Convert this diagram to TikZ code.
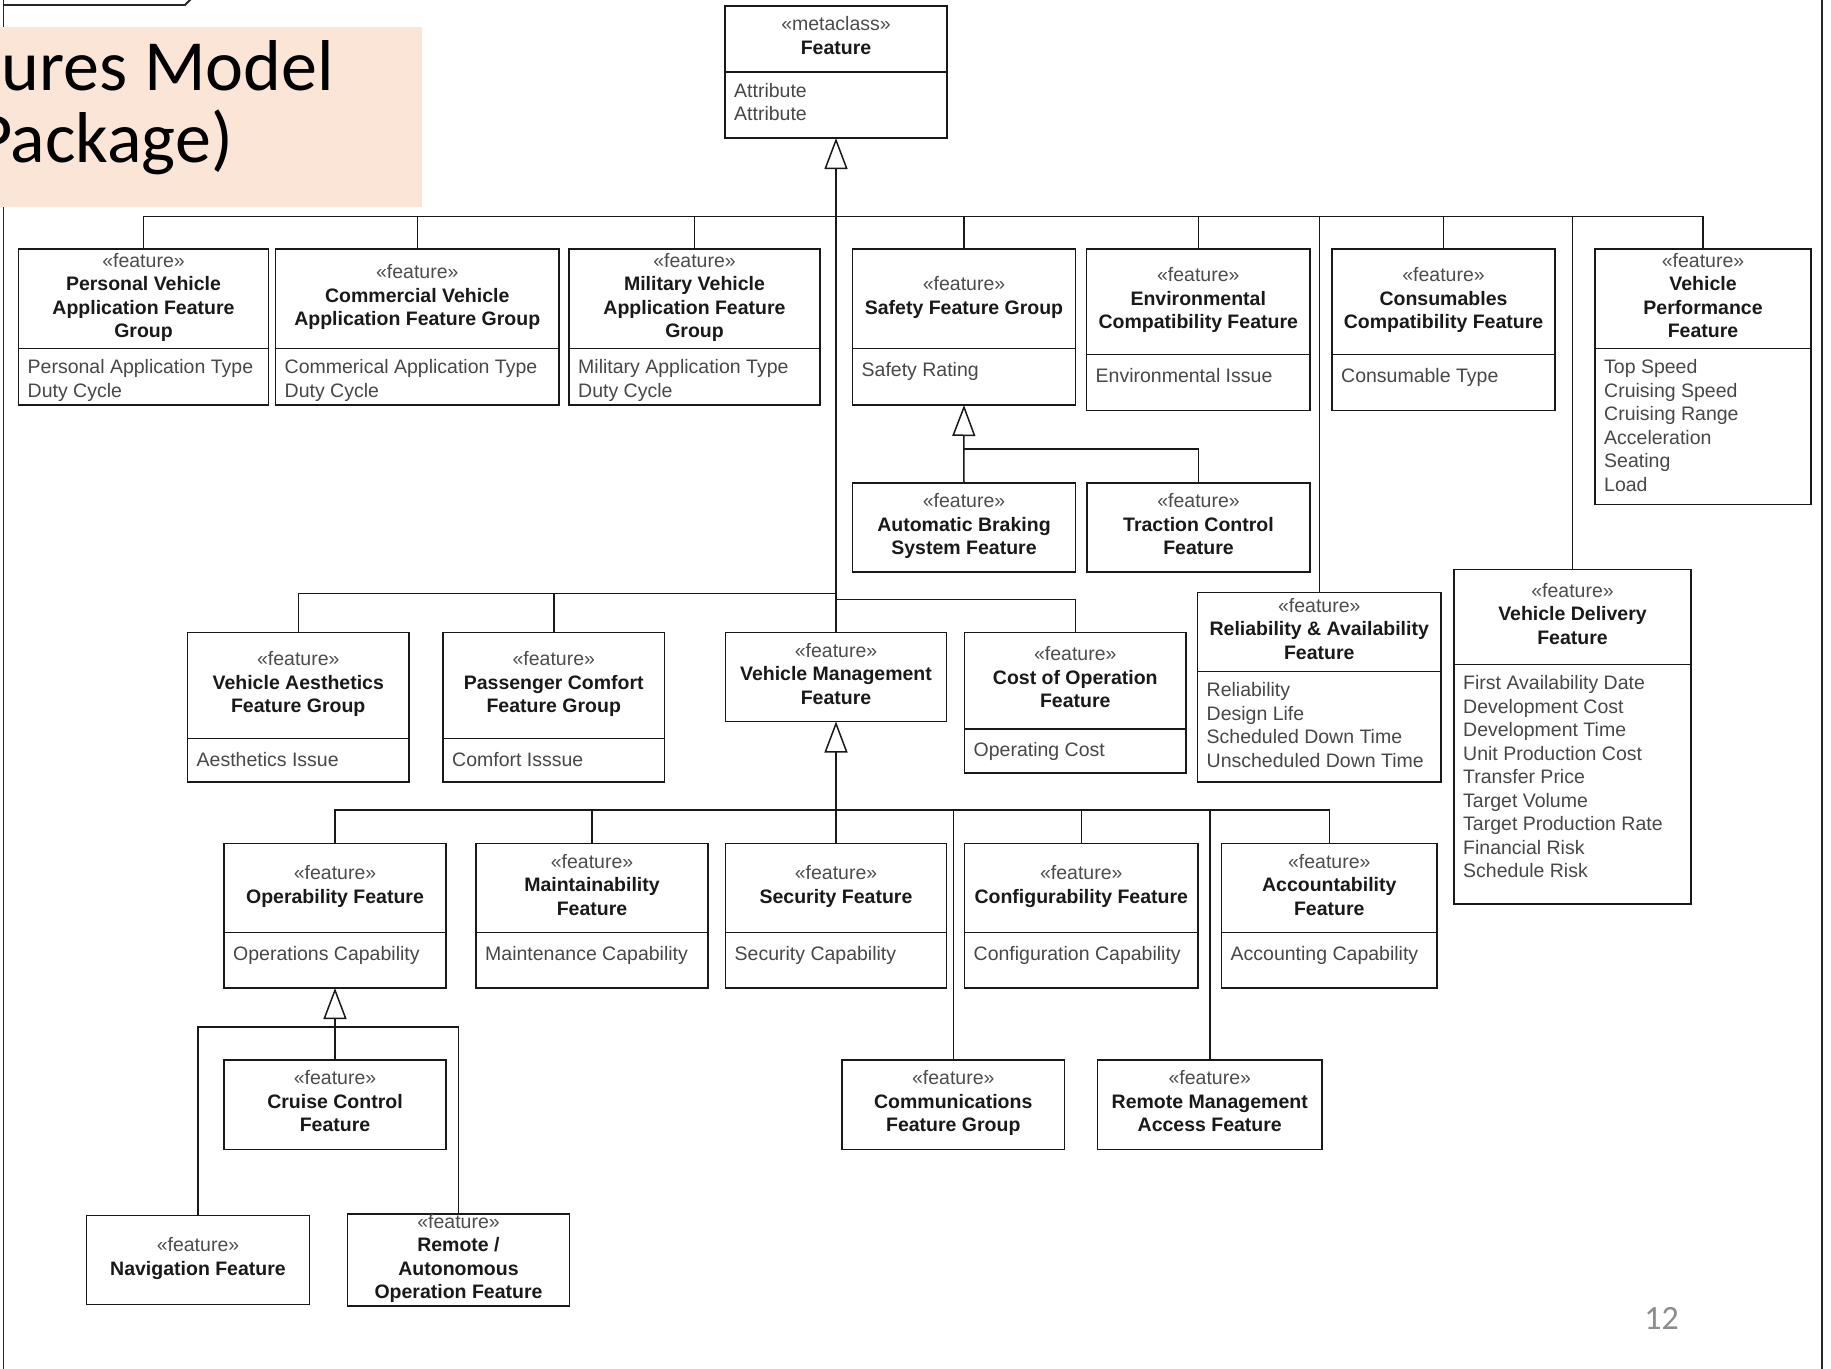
\documentclass[tikz,border=0pt]{standalone}
\usepackage{fontspec}
\setmainfont{Liberation Sans}
\newfontfamily\titlefont{Carlito}
\usetikzlibrary{positioning,arrows.meta}

\definecolor{titlebg}{HTML}{FBE5D6}
\newcommand{\boxfont}{\fontsize{19.5}{23.5}\selectfont}
\newcommand{\stereo}[1]{{\mdseries\color{black!70}«#1»}\\}
\newcommand{\ftr}{\stereo{feature}}
% class with name and attribute compartments
\newcommand{\featcls}[8]{%
    \node[hdr, minimum width={#4-#2}, minimum height={#5-#3}] (#1) at ({(#2+#4)/2},{(#3+#5)/2}) {#7};
    \node[cmp, minimum width={#4-#2}, minimum height={#6-#5}, below=0pt of #1] (#1-c) {};
    \node[attrs] (#1-t) at ({#2+9},{#5+11}) {#8};
}
% class with name compartment only
\newcommand{\featnode}[6]{%
    \node[hdr, minimum width={#4-#2}, minimum height={#5-#3}] (#1) at ({(#2+#4)/2},{(#3+#5)/2}) {#6};
}

\begin{document}
\begin{tikzpicture}[x=1pt, y=-1pt,
            hdr/.style = {draw=black!90, line width=1.8pt, inner sep=0pt, outer sep=0pt,
                align=center, font=\boxfont\bfseries, text=black!90,
                execute at begin node=\strut, execute at end node=\strut},
            cmp/.style = {draw=black!90, line width=1.8pt, inner sep=0pt, outer sep=0pt},
            attrs/.style = {anchor=north west, inner sep=0pt, align=left, font=\boxfont,
                text=black!72, execute at begin node=\strut},
            conn/.style = {draw=black!90, line width=1.5pt},
            gen/.style = {conn, -{Triangle[open, length=31pt, width=23pt]}},
            frame/.style = {draw=black!85, line width=1.8pt},
            title/.style = {anchor=base east, inner sep=0pt, font=\titlefont\fontsize{72}{78}\selectfont},
            ]
    \fill[white] (0,0) rectangle (1831,1368);
    \useasboundingbox (0,0) rectangle (1831,1368);

    \draw[frame] (3.5,-10) -- (3.5,1380);
    \draw[frame] (1822,-10) -- (1822,1380);
    \draw[frame] (3.5,5) -- (185,5) -- (196,-6);

    \fill[titlebg] (-2,27.3) rectangle (421.7,206.7);
    \node[title] (title-a) at (334,90.7) {ures Model};
    \node[title] (title-b) at (233,162.3) {Package)};

    \featcls{meta}{725}{6}{947}{72}{138}{\stereo{metaclass}Feature}{Attribute\\Attribute}

    % first level
    \featcls{pv}{18.5}{249}{268.5}{348.5}{405}{\ftr Personal Vehicle\\Application Feature\\Group}{Personal Application Type\\Duty Cycle}
    \featcls{cv}{275.5}{249}{559}{348.5}{405}{\ftr Commercial Vehicle\\Application Feature Group}{Commerical Application Type\\Duty Cycle}
    \featcls{mv}{569}{249}{820}{348.5}{405}{\ftr Military Vehicle\\Application Feature\\Group}{Military Application Type\\Duty Cycle}
    \featcls{sf}{852.5}{249}{1075.5}{348.5}{405}{\ftr Safety Feature Group}{Safety Rating}
    \featcls{ec}{1086.5}{249}{1310}{354.5}{410.5}{\ftr Environmental\\Compatibility Feature}{Environmental Issue}
    \featcls{cc}{1332}{249}{1555}{354.5}{410.5}{\ftr Consumables\\Compatibility Feature}{Consumable Type}
    \featcls{vp}{1595}{249}{1811}{348.5}{504.5}{\ftr Vehicle\\Performance\\Feature}{Top Speed\\Cruising Speed\\Cruising Range\\Acceleration\\Seating\\Load}

    \featnode{abrk}{852.5}{483}{1075.5}{572}{\ftr Automatic Braking\\System Feature}
    \featnode{tc}{1087}{483}{1310}{572}{\ftr Traction Control\\Feature}

    \featcls{va}{187.5}{632.5}{409}{738.5}{782}{\ftr Vehicle Aesthetics\\Feature Group}{Aesthetics Issue}
    \featcls{pc}{443}{632.5}{664.5}{738.5}{782}{\ftr Passenger Comfort\\Feature Group}{Comfort Isssue}
    \featnode{vm}{725.5}{632.5}{946.5}{721.5}{\ftr Vehicle Management\\Feature}
    \featcls{co}{964.5}{632.5}{1186}{729}{773}{\ftr Cost of Operation\\Feature}{Operating Cost}
    \featcls{ra}{1197.5}{592.5}{1441}{671.5}{782}{\ftr Reliability \& Availability\\Feature}{Reliability\\Design Life\\Scheduled Down Time\\Unscheduled Down Time}
    \featcls{vd}{1454}{569.5}{1691}{664.5}{904}{\ftr Vehicle Delivery\\Feature}{First Availability Date\\Development Cost\\Development Time\\Unit Production Cost\\Transfer Price\\Target Volume\\Target Production Rate\\Financial Risk\\Schedule Risk}

    % vehicle management children
    \featcls{op}{224}{843.5}{446}{932.5}{988}{\ftr Operability Feature}{Operations Capability}
    \featcls{mt}{476}{843.5}{708}{932.5}{988}{\ftr Maintainability\\Feature}{Maintenance Capability}
    \featcls{sec}{725.5}{843.5}{946.5}{932.5}{988}{\ftr Security Feature}{Security Capability}
    \featcls{cfg}{964.5}{843.5}{1198}{932.5}{988}{\ftr Configurability Feature}{Configuration Capability}
    \featcls{acc}{1221.5}{843.5}{1437}{932.5}{988}{\ftr Accountability\\Feature}{Accounting Capability}
    \featnode{com}{842}{1060}{1064.5}{1149.5}{\ftr Communications\\Feature Group}
    \featnode{rm}{1097.5}{1060}{1322}{1149.5}{\ftr Remote Management\\Access Feature}

    % operability children
    \featnode{cr}{224}{1060}{446}{1149.5}{\ftr Cruise Control\\Feature}
    \featnode{nav}{86.5}{1215.5}{309.5}{1304.5}{\ftr Navigation Feature}
    \featnode{rao}{347.5}{1215.5}{569.5}{1304.5}{\ftr Remote /\\Autonomous\\Operation Feature}

    % generalizations
    \coordinate (meta-j) at (836,216.5);
    \coordinate (meta-ja) at (836,593.5);
    \coordinate (meta-jb) at (836,599.5);
    \draw[gen] (vm.north) -- (meta-c.south);
    \foreach \n in {pv,cv,mv,sf,ec,cc,vp,ra,vd}
        \draw[conn] (\n.north) |- (meta-j);
    \draw[conn] (va.north) |- (meta-ja);
    \draw[conn] (pc.north) |- (meta-ja);
    \draw[conn] (co.north) |- (meta-jb);

    \coordinate (sf-j) at (963.75,449);
    \draw[gen] (sf-j) -- (sf-c.south);
    \draw[conn] (abrk.north) -- (sf-j);
    \draw[conn] (tc.north) |- (sf-j);

    \coordinate (vm-j) at (836,810);
    \draw[gen] (vm-j) -- (vm.south);
    \foreach \n in {op,mt,sec,com,cfg,rm,acc}
        \draw[conn] (\n.north) |- (vm-j);

    \coordinate (op-j) at (335,1027);
    \draw[gen] (op-j) -- (op-c.south);
    \foreach \n in {cr,nav,rao}
        \draw[conn] (\n.north) |- (op-j);

    \node[anchor=base east, inner sep=0pt, text=black!45,
        font=\titlefont\fontsize{34}{40}\selectfont] (pnum) at (1679,1329) {12};
\end{tikzpicture}
\end{document}
